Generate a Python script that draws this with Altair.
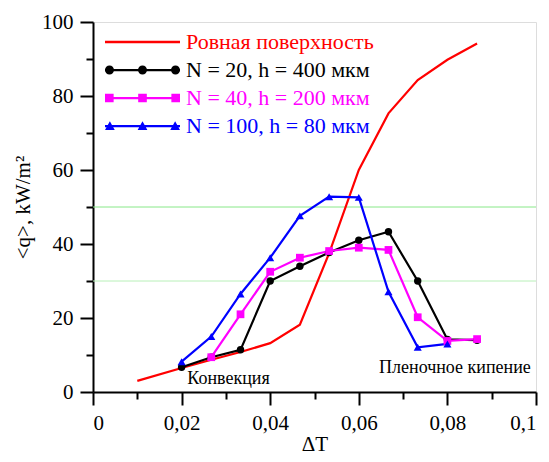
import altair as alt
import pandas as pd

dT = [0.01, 0.02, 0.0267, 0.0333, 0.04, 0.0467, 0.0533, 0.06, 0.0667, 0.0733, 0.08, 0.0867]
q_flat = [3, 6.5, 8.7, 10.8, 13.2, 18.2, 37.5, 60, 75.3, 84.3, 89.8, 94.2]
dT_20 = dT[1:]
q_20 = [6.7, 9.4, 11.4, 30, 34, 37.7, 41, 43.3, 30, 14.2, 14]
dT_40 = dT[2:]
q_40 = [9.4, 21, 32.5, 36.3, 38.1, 39, 38.4, 20.2, 13.8, 14.3]
dT_100 = dT[1:11]
q_100 = [8.2, 15, 26.5, 36.3, 47.6, 52.8, 52.6, 27.1, 12.1, 13]

names = ["Ровная поверхность", "N = 20, h = 400 мкм", "N = 40, h = 200 мкм", "N = 100, h = 80 мкм"]
colors = ["#ff0000", "#000000", "#ff00ff", "#0000ff"]
grid_vals = [30, 50]
grid_cols = ["#b8f0b8", "#88e888"]
x_major = [0, 0.02, 0.04, 0.06, 0.08, 0.1]
x_minor = [0.01, 0.03, 0.05, 0.07, 0.09]
y_major = [0, 20, 40, 60, 80, 100]
y_minor = [10, 30, 50, 70, 90]
notes = ["Конвекция", "Пленочное кипение"]
note_x = [0.0306, 0.0817]
note_y = [3.5, 6.5]

rows = []
for nm, xs_, ys_ in zip(names, [dT, dT_20, dT_40, dT_100], [q_flat, q_20, q_40, q_100]):
    for a, b in zip(xs_, ys_):
        rows.append({"series": nm, "dT": a, "q": b})
df = pd.DataFrame(rows)

FONT = "Liberation Serif, Times New Roman, serif"
xs = alt.Scale(domain=[0, 0.1], nice=False)
ys = alt.Scale(domain=[0, 100], nice=False)
cscale = alt.Scale(domain=names, range=colors)

# legend symbol paths (line with markers)
def rect(h):
    return f"M-1,{-h} L1,{-h} L1,{h} L-1,{h} Z "

def circ(cx, r):
    return f"M{cx - r},0 A{r},{r} 0 1,1 {cx + r},0 A{r},{r} 0 1,1 {cx - r},0 Z "

def sq(cx, s):
    return f"M{cx - s},{-s} L{cx + s},{-s} L{cx + s},{s} L{cx - s},{s} Z "

def tri(cx, t):
    return f"M{cx},{-t} L{cx + t},{t * 0.8} L{cx - t},{t * 0.8} Z "

p_red = rect(0.035)
p_blk = rect(0.03) + "".join(circ(c, 0.12) for c in [-0.88, 0, 0.88])
p_mag = rect(0.03) + "".join(sq(c, 0.115) for c in [-0.885, 0, 0.885])
p_blu = rect(0.03) + "".join(tri(c, 0.13) for c in [-0.87, 0, 0.87])
paths = [p_red, p_blk, p_mag, p_blu]
SYM = 5625
row_y = [20, 48, 76, 104]

LBL = 21
gdf = pd.DataFrame({"g": grid_vals, "c": grid_cols})
grid = alt.Chart(gdf).mark_rule(strokeWidth=1).encode(
    y=alt.Y("g:Q", scale=ys, axis=alt.Axis(values=y_major, tickSize=13, tickWidth=2, domainWidth=2,
                                             domainColor="black", tickColor="black", grid=False,
                                             labelFontSize=LBL, labelFont=FONT, labelPadding=7,
                                             labelColor="black",
                                             title="<q>, kW/m²", titleFont=FONT, titleFontSize=21,
                                             titleColor="black",
                                             titleFontWeight="normal", titlePadding=8, orient="left")),
    color=alt.Color("c:N", scale=None),
)
xaxis_layer = alt.Chart(gdf).mark_point(opacity=0).encode(
    x=alt.X("g:Q", scale=xs, axis=alt.Axis(values=x_major, tickSize=13, tickWidth=2, domainWidth=2,
                                             domainColor="black", tickColor="black", grid=False,
                                             labelFontSize=LBL, labelFont=FONT, labelPadding=7,
                                             labelColor="black",
                                             labelExpr="replace(format(datum.value, '~g'), '.', ',')",
                                             title="ΔT", titleFont=FONT, titleFontSize=21,
                                             titleColor="black",
                                             titleFontWeight="normal", titlePadding=0, orient="bottom")),
)
minor = alt.Chart(gdf).mark_point(opacity=0).encode(
    x=alt.X("g:Q", scale=xs, axis=alt.Axis(values=x_minor, tickSize=7, tickWidth=2, domain=False,
                                             tickColor="black", labels=False, title=None, grid=False,
                                             orient="bottom")),
    y=alt.Y("g:Q", scale=ys, axis=alt.Axis(values=y_minor, tickSize=7, tickWidth=2, domain=False,
                                             tickColor="black", labels=False, title=None, grid=False,
                                             orient="left")),
)

lines = alt.Chart(df).mark_line(strokeWidth=2.2).encode(
    x=alt.X("dT:Q", scale=xs, axis=None),
    y=alt.Y("q:Q", scale=ys, axis=None),
    color=alt.Color("series:N", scale=cscale, legend=None),
    detail="series:N",
)

def pts(nm, col, shape, size):
    return alt.Chart(df[df.series == nm]).mark_point(filled=True, shape=shape, size=size, color=col, opacity=1).encode(
        x=alt.X("dT:Q", scale=xs, axis=None),
        y=alt.Y("q:Q", scale=ys, axis=None),
    )

p1 = pts(names[1], colors[1], "circle", 55)
p2 = pts(names[2], colors[2], "square", 60)
p3 = pts(names[3], colors[3], "triangle-up", 65)


def leg_props(i):
    return dict(title=None, orient="none", legendX=12, legendY=row_y[i] - SYM ** 0.5 / 2,
                symbolType=paths[i], symbolSize=SYM, symbolOpacity=1, symbolStrokeWidth=0,
                symbolFillColor=colors[i], symbolStrokeColor=colors[i],
                labelFont=FONT, labelFontSize=22, labelOffset=6, labelColor=colors[i],
                padding=0, labelLimit=400)


def leg_base(i):
    return alt.Chart(df[df.series == names[i]].head(1)).mark_point(
        filled=True, opacity=0, color=colors[i], size=SYM
    ).encode(
        x=alt.X("dT:Q", scale=xs, axis=None),
        y=alt.Y("q:Q", scale=ys, axis=None),
    )

leg0 = leg_base(0).encode(
    color=alt.Color("series:N", scale=alt.Scale(domain=[names[0]], range=[colors[0]]),
                    legend=alt.Legend(**leg_props(0))))
leg1 = leg_base(1).encode(
    shape=alt.Shape("series:N", scale=alt.Scale(domain=[names[1]], range=[paths[1]]),
                    legend=alt.Legend(**leg_props(1))))
leg2 = leg_base(2).encode(
    fill=alt.Fill("series:N", scale=alt.Scale(domain=[names[2]], range=[colors[2]]),
                  legend=alt.Legend(**leg_props(2))))
leg3 = leg_base(3).encode(
    stroke=alt.Stroke("series:N", scale=alt.Scale(domain=[names[3]], range=[colors[3]]),
                      legend=alt.Legend(**leg_props(3))))

ndf = pd.DataFrame({"t": notes, "x": note_x, "y": note_y})
txt = alt.Chart(ndf).mark_text(font=FONT, fontSize=18, color="black").encode(
    x=alt.X("x:Q", scale=xs, axis=None),
    y=alt.Y("y:Q", scale=ys, axis=None),
    text="t:N",
)

chart = alt.layer(grid, xaxis_layer, minor, lines, p1, p2, p3, leg0, leg1, leg2, leg3, txt).resolve_axis(
    x="independent", y="independent"
).resolve_scale(color="independent").properties(
    width=443, height=370,
    autosize=alt.AutoSizeParams(type="none"),
    padding={"left": 85, "top": 14, "right": 5, "bottom": 62},
).configure_view(stroke="black", strokeWidth=1.5).configure(background="white")

chart.save("out.html", embed_options={"renderer": "svg", "actions": False})
